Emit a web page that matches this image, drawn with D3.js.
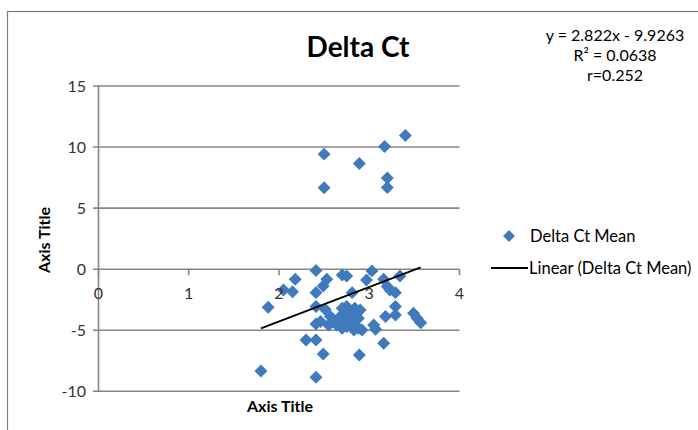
<!DOCTYPE html>
<html><head><meta charset="utf-8">
<script src="https://cdn.jsdelivr.net/npm/d3@7"></script>
<style>body{margin:0;background:#fff}svg{display:block}text{font-family:Lato,"Open Sans",sans-serif}</style>
</head><body><svg id="c" width="698" height="430"></svg>
<script>
// Data: Delta Ct Mean (x, y)
const xVals = [2.50,2.50,2.89,3.17,3.40,3.20,3.20,
 2.41,3.03,2.18,2.53,2.70,2.75,2.97,3.16,3.34,
 2.49,2.05,2.15,2.41,2.81,3.20,3.23,3.29,
 1.88,2.41,2.51,3.29,3.29,3.18,3.49,3.53,3.57,3.05,3.07,
 2.57,2.60,2.55,2.46,2.68,2.70,2.75,2.73,2.71,2.70,2.79,2.81,2.84,2.90,2.86,2.88,2.84,2.88,2.92,2.83,2.75,2.64,2.81,2.41,
 2.30,2.41,2.49,2.89,3.16,1.80,2.41];
const yVals = [9.42,6.66,8.66,10.05,10.95,7.46,6.69,
 -0.11,-0.14,-0.82,-0.82,-0.47,-0.55,-0.88,-0.82,-0.55,
 -1.37,-1.70,-1.84,-1.92,-1.92,-1.42,-1.70,-1.92,
 -3.11,-3.06,-3.28,-3.06,-3.75,-3.88,-3.61,-4.02,-4.38,-4.57,-4.92,
 -3.88,-4.29,-4.57,-4.29,-3.88,-3.20,-3.06,-3.75,-4.29,-4.84,-4.29,-3.88,-3.20,-3.34,-3.61,-4.02,-4.57,-4.84,-4.98,-4.98,-4.70,-4.57,-3.47,-4.48,
 -5.80,-5.80,-6.94,-7.02,-6.07,-8.34,-8.85];
const xTicks = [0,1,2,3,4];
const yTicks = [-10,-5,0,5,10,15];
const slope = 2.822, intercept = -9.9263;
const eqLines = ["y = 2.822x - 9.9263", "R² = 0.0638", "r=0.252"];
const title = "Delta Ct";
const seriesName = "Delta Ct Mean";
const trendName = "Linear (Delta Ct Mean)";

const svg = d3.select("#c");
const x = d3.scaleLinear().domain([0,4]).range([98.5,459.5]);
const y = d3.scaleLinear().domain([-10,15]).range([391.3,86]);
const grid = "#868686";

// chart border
svg.append("rect").attr("x",7.5).attr("y",11.5).attr("width",720).attr("height",440)
  .attr("fill","none").attr("stroke","#7f7f7f").attr("stroke-width",1.2);

// horizontal gridlines + y ticks
svg.append("g").selectAll("line").data(yTicks).join("line")
  .attr("x1",93).attr("x2",x(4)).attr("y1",d=>y(d)).attr("y2",d=>y(d))
  .attr("stroke",grid).attr("stroke-width",1.6);
// y axis line
svg.append("line").attr("x1",x(0)).attr("x2",x(0)).attr("y1",y(15)).attr("y2",y(-10))
  .attr("stroke",grid).attr("stroke-width",1.6);
// x ticks at y=0
svg.append("g").selectAll("line").data(xTicks).join("line")
  .attr("x1",d=>x(d)).attr("x2",d=>x(d)).attr("y1",y(0)).attr("y2",y(0)+6)
  .attr("stroke",grid).attr("stroke-width",1.6);

// y tick labels
svg.append("g").selectAll("text").data(yTicks).join("text")
  .attr("x",86).attr("y",d=>y(d)).attr("dy","0.35em").attr("text-anchor","end")
  .attr("font-size",16).attr("fill","#333").text(d=>d);

// points
const pts = xVals.map((v,i)=>({x:v,y:yVals[i]}));
svg.append("g").selectAll("path").data(pts).join("path")
  .attr("transform",d=>`translate(${x(d.x)},${y(d.y)}) rotate(45)`)
  .attr("d",d3.symbol().type(d3.symbolSquare).size(84)())
  .attr("fill","#3f7abd");

// x tick labels (drawn over points)
svg.append("g").selectAll("text").data(xTicks).join("text")
  .attr("x",d=>x(d)).attr("y",y(0)+24).attr("dy","0.35em").attr("text-anchor","middle")
  .attr("font-size",16).attr("fill","#333").text(d=>d);

// trendline
const xmin = d3.min(xVals), xmax = d3.max(xVals);
svg.append("line").attr("x1",x(xmin)).attr("y1",y(slope*xmin+intercept))
  .attr("x2",x(xmax)).attr("y2",y(slope*xmax+intercept))
  .attr("stroke","#000").attr("stroke-width",1.8);

// title
svg.append("text").attr("x",358).attr("y",47).attr("dy","0.35em").attr("text-anchor","middle")
  .attr("font-size",28).attr("font-weight","bold").attr("fill","#000").text(title);

// equation
svg.append("g").selectAll("text").data(eqLines).join("text")
  .attr("x",615).attr("y",(d,i)=>35+i*20).attr("dy","0.35em").attr("text-anchor","middle")
  .attr("font-size",16).attr("fill","#000").text(d=>d);

// axis titles
svg.append("text").attr("x",280).attr("y",406).attr("dy","0.35em").attr("text-anchor","middle")
  .attr("font-size",16).attr("font-weight","bold").attr("fill","#000").text("Axis Title");
svg.append("text").attr("transform","translate(44,240) rotate(-90)").attr("dy","0.35em")
  .attr("text-anchor","middle").attr("font-size",16).attr("font-weight","bold").attr("fill","#000").text("Axis Title");

// legend
svg.append("path").attr("transform","translate(509,236) rotate(45)")
  .attr("d",d3.symbol().type(d3.symbolSquare).size(70)()).attr("fill","#3f7abd");
svg.append("text").attr("x",530).attr("y",236).attr("dy","0.35em").attr("font-size",16.5)
  .attr("fill","#000").text(seriesName);
svg.append("line").attr("x1",491).attr("x2",528).attr("y1",268).attr("y2",268)
  .attr("stroke","#000").attr("stroke-width",1.8);
svg.append("text").attr("x",529).attr("y",268).attr("dy","0.35em").attr("font-size",16.5)
  .attr("fill","#000").text(trendName);
</script></body></html>
